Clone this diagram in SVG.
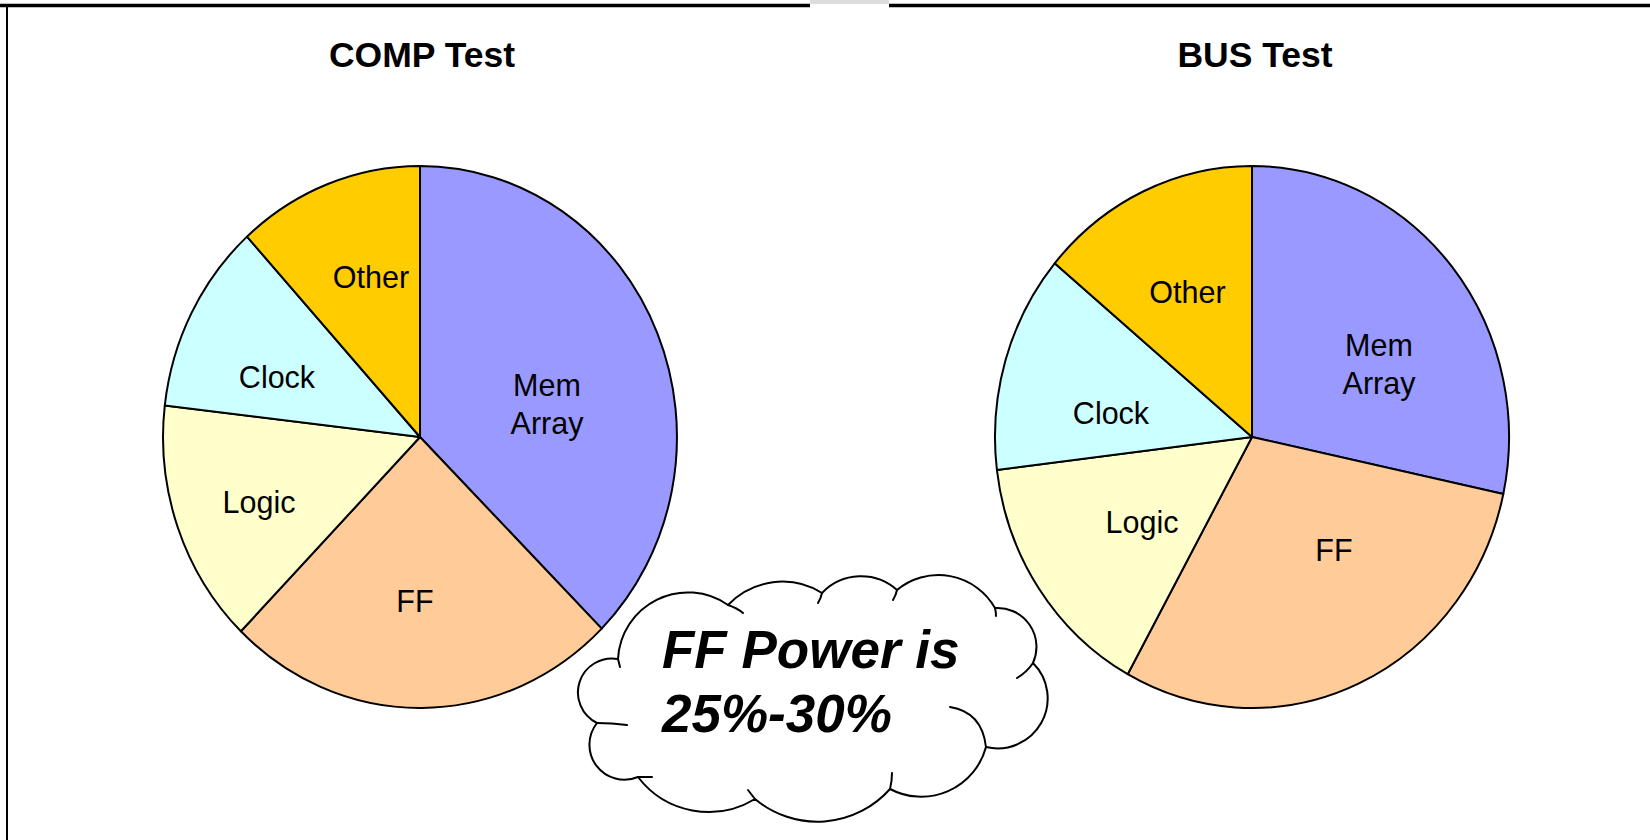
<svg xmlns="http://www.w3.org/2000/svg" width="1650" height="840" viewBox="0 0 1650 840">
  <style>
    .slice { stroke: #000; stroke-width: 2; stroke-linejoin: round; }
    .mem { fill: #9999FF; }
    .ff { fill: #FFCC99; }
    .logic { fill: #FFFFCC; }
    .clock { fill: #CCFFFF; }
    .other { fill: #FFCC00; }
    .lbl { font-family: "Liberation Sans", Arial, sans-serif; font-size: 30.5px; fill: #000; text-anchor: middle; }
    .title { font-family: "Liberation Sans", Arial, sans-serif; font-size: 35.5px; font-weight: bold; fill: #000; text-anchor: middle; }
    .note { font-family: "Liberation Sans", Arial, sans-serif; font-size: 53px; font-weight: bold; font-style: italic; fill: #000; }
    .edge { fill: none; stroke: #000; stroke-width: 2; stroke-linecap: round; }
  </style>
  <rect width="1650" height="840" fill="#fff"/>

  <!-- page frame -->
  <g id="frame">
    <line x1="0" y1="5.5" x2="810" y2="5.5" stroke="#000" stroke-width="3.5"/>
    <rect x="810" y="0" width="79" height="4" fill="#dddddd"/>
    <line x1="889" y1="5.5" x2="1650" y2="5.5" stroke="#000" stroke-width="3.5"/>
    <line x1="7" y1="5" x2="7" y2="840" stroke="#000" stroke-width="2"/>
  </g>

  <!-- COMP Test pie -->
  <g id="comp-test">
    <text class="title" x="422" y="67">COMP Test</text>
    <path class="slice mem" d="M420,437 L420,166 A257,271 0 0 1 601.7,628.6 Z"/>
    <path class="slice ff" d="M420,437 L601.7,628.6 A257,271 0 0 1 240.9,631.3 Z"/>
    <path class="slice logic" d="M420,437 L240.9,631.3 A257,271 0 0 1 164.8,405.4 Z"/>
    <path class="slice clock" d="M420,437 L164.8,405.4 A257,271 0 0 1 247,236.6 Z"/>
    <path class="slice other" d="M420,437 L247,236.6 A257,271 0 0 1 420,166 Z"/>
    <text class="lbl" x="371" y="288">Other</text>
    <text class="lbl" x="277" y="388">Clock</text>
    <text class="lbl" x="547" y="396">Mem</text>
    <text class="lbl" x="547" y="434">Array</text>
    <text class="lbl" x="259" y="513">Logic</text>
    <text class="lbl" x="415" y="612">FF</text>
  </g>

  <!-- BUS Test pie -->
  <g id="bus-test">
    <text class="title" x="1255" y="67">BUS Test</text>
    <path class="slice mem" d="M1252,437 L1252,166 A257,271 0 0 1 1503.3,494 Z"/>
    <path class="slice ff" d="M1252,437 L1503.3,494 A257,271 0 0 1 1127.7,674.2 Z"/>
    <path class="slice logic" d="M1252,437 L1127.7,674.2 A257,271 0 0 1 996.9,470 Z"/>
    <path class="slice clock" d="M1252,437 L996.9,470 A257,271 0 0 1 1054.7,263.3 Z"/>
    <path class="slice other" d="M1252,437 L1054.7,263.3 A257,271 0 0 1 1252,166 Z"/>
    <text class="lbl" x="1187.5" y="303">Other</text>
    <text class="lbl" x="1379" y="356">Mem</text>
    <text class="lbl" x="1379" y="394">Array</text>
    <text class="lbl" x="1111" y="424">Clock</text>
    <text class="lbl" x="1142" y="533">Logic</text>
    <text class="lbl" x="1334" y="561">FF</text>
  </g>

  <!-- callout cloud -->
  <g id="ff-callout">
    <path d="M618,659 A70,70 0 0 1 728,605 A75,75 0 0 1 822,593 A54,54 0 0 1 897,590 A65,65 0 0 1 995,608 A39,39 0 0 1 1033,663 A50,50 0 0 1 986,747 A67,67 0 0 1 890,789 A97,97 0 0 1 755,799 A89,89 0 0 1 638,777 A35,35 0 0 1 597,723 A34,34 0 0 1 618,659 Z" fill="#fff" stroke="#000" stroke-width="2" stroke-linejoin="round"/>
    <path class="edge" d="M618,659 Q619,663 620,667"/>
    <path class="edge" d="M728,605 Q737,608 743,613"/>
    <path class="edge" d="M822,593 Q821,598 818,603"/>
    <path class="edge" d="M897,590 Q896,595 893,600"/>
    <path class="edge" d="M995,608 Q996,612 996,616"/>
    <path class="edge" d="M1033,663 Q1027,672 1017,678"/>
    <path class="edge" d="M986,747 Q982,712 950,707"/>
    <path class="edge" d="M890,789 Q892,781 892,773"/>
    <path class="edge" d="M755,799 Q751,794 748,790"/>
    <path class="edge" d="M638,777 L652,777"/>
    <path class="edge" d="M597,723 Q612,723 627,725"/>
    <text class="note" x="662" y="668">FF Power is</text>
    <text class="note" x="662" y="732">25%-30%</text>
  </g>
</svg>
